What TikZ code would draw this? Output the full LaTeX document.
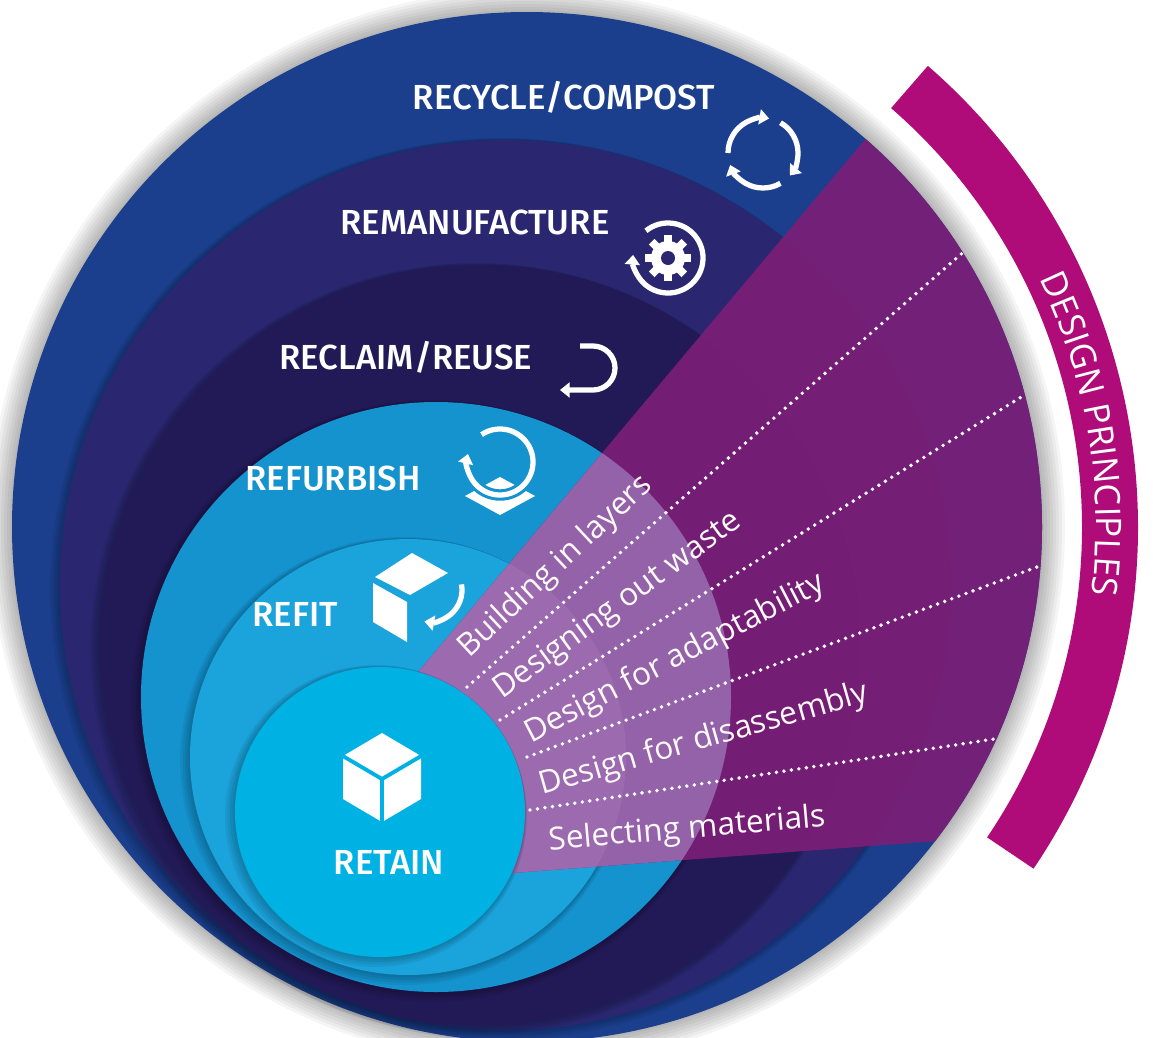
\documentclass[tikz,border=0pt]{standalone}
\usepackage{fontspec}
\setmainfont{Fira Sans}[BoldFont={Fira Sans Medium}]
\newfontfamily\prfont{Open Sans}
\usetikzlibrary{arrows.meta,calc,decorations.text}

\definecolor{recycle}{RGB}{27,63,141}
\definecolor{remanu}{RGB}{42,39,112}
\definecolor{reclaim}{RGB}{34,26,87}
\definecolor{refurb}{RGB}{21,147,207}
\definecolor{refit}{RGB}{27,163,220}
\definecolor{retain}{RGB}{0,177,227}
\definecolor{wedge}{RGB}{123,30,119}
\definecolor{lav}{RGB}{148,98,168}
\definecolor{lavlight}{RGB}{160,112,180}
\definecolor{band}{RGB}{176,12,121}

\begin{document}
\begin{tikzpicture}[x=0.02cm, y=-0.02cm,
    stage/.style={text=white, font=\fontsize{19.8}{23}\selectfont\bfseries, inner sep=0},
    principle/.style={text=white!92!pink, font=\prfont\fontsize{18}{21}\selectfont, inner sep=0},
    dots/.style={white, line width=2.2pt, line cap=round, dash pattern=on 0pt off 4.3pt},
    icon/.style={white, line width=3pt},
    arrowtip/.style={-{Triangle[length=5.5pt, width=8.5pt]}}
]
\fill[white] (0,0) rectangle (1153,1038);
\useasboundingbox (0,0) rectangle (1153,1038);

\coordinate (c1) at (527,527);
\coordinate (c2) at (505,585);
\coordinate (c3) at (480,645);
\coordinate (c4) at (436,697);
\coordinate (c5) at (408,757);
\coordinate (c6) at (380,812);
\coordinate (apex) at (232,894);
\coordinate (w1) at ($(apex)+(-50:250)$);
\coordinate (w2) at ($(apex)+(-4.3:200)$);

% soft shadow round the disc
\foreach \i in {1,...,8}
  \fill[black, opacity=0.04] (c1) circle ({514+3*\i});
\fill[recycle] (c1) circle (515);

% nested rings
\foreach \c/\r/\col in {c2/445/remanu, c3/380/reclaim, c4/295/refurb, c5/218/refit}{
  \foreach \i in {1,...,4}
    \fill[black, opacity=0.06] ($(\c)+(-\i,\i)$) circle ({\r+1.5*\i});
  \fill[\col] (\c) circle (\r);
}

% design principles wedge
\begin{scope}
  \clip (c1) circle (515);
  \fill[wedge, opacity=0.92] (w1) -- ($(apex)+(-50:1400)$) -- ($(apex)+(-4.3:1400)$) -- (w2) -- (c6) -- cycle;
  \clip (w1) -- ($(apex)+(-50:1400)$) -- ($(apex)+(-4.3:1400)$) -- (w2) -- (c6) -- cycle;
  \fill[lav] (c4) circle (295);
  \fill[lavlight, opacity=0.6] (c5) circle (218);
  \draw[dots] (467,687) -- (1000,220);
  \draw[dots] (500,720) -- (1060,373);
  \draw[dots] (527,757) -- (1080,551);
  \draw[dots] (530,810) -- (1040,732);
\end{scope}

\foreach \i in {1,...,4}
  \fill[black, opacity=0.06] ($(c6)+(-\i,\i)$) circle ({145+1.5*\i});
\fill[retain] (c6) circle (145);

% stage labels
\node[stage] (recycling) at (564,97) {RECYCLE/COMPOST};
\node[stage] (remanufacture) at (475,222) {REMANUFACTURE};
\node[stage] (reclaiming) at (406,357) {RECLAIM/REUSE};
\node[stage] (refurbish) at (333,478) {REFURBISH};
\node[stage] (refitting) at (295,614) {REFIT};
\node[stage] (retaining) at (389,862) {RETAIN};

% icons
\coordinate (rc) at (763,153);
\foreach \s in {60,180,300}
  \draw[icon, arrowtip] ($(rc)+(\s:35)$) arc[start angle=\s, end angle=\s+100, radius=35];

\coordinate (rm) at (668,258);
\draw[icon, arrowtip] ($(rm)+(231:35)$) arc[start angle=231, end angle=545, radius=35];
\fill[white] (rm) circle (17);
\foreach \a in {0,45,...,315}
  \draw[white, line width=4.5pt] ($(rm)+(\a:12)$) -- ($(rm)+(\a:23)$);
\fill[remanu] (rm) circle (7);

\coordinate (rl) at (593,368);
\draw[icon, arrowtip] ($(rl)+(-13,-22)$) -- ($(rl)+(0,-22)$)
  arc[start angle=-90, end angle=90, radius=22] -- ($(rl)+(-33,22)$);

\coordinate (rf) at (500,462);
\fill[white] ($(rf)+(-35,34)$) -- ++(35,-19) -- ++(35,19) -- ++(-35,19) -- cycle;
\draw[refurb, line width=6.5pt] ($(rf)+(236:33)$) arc[start angle=236, end angle=554, radius=33];
\draw[icon, arrowtip] ($(rf)+(236:33)$) arc[start angle=236, end angle=554, radius=33];

\coordinate (rt) at (410,597);
\fill[white] ($(rt)+(2,-44)$) -- ++(36,20) -- ++(-38,22) -- ++(-35,-18) -- cycle;
\fill[white] ($(rt)+(-37,-14)$) -- ++(34,19) -- ++(0,40) -- ++(-34,-20) -- cycle;
\draw[icon, arrowtip] ($(rt)+(51.5,-12.6)$) arc[start angle=-10, end angle=100, radius=32];

\coordinate (rn) at (382,779);
\fill[white] ($(rn)+(0,-46)$) -- ++(39,23) -- ++(0,43) -- ++(-39,23) -- ++(-39,-23) -- ++(0,-43) -- cycle;
\draw[retain, line width=2.2pt] ($(rn)+(-40,-23.5)$) -- (rn) -- ($(rn)+(40,-23.5)$) (rn) -- ($(rn)+(0,45)$);

% principles
\node[principle, rotate=43] (layers) at (556,567) {Building in layers};
\node[principle, rotate=36] (waste) at (618,606) {Designing out waste};
\node[principle, rotate=27.5] (adapt) at (675,659) {Design for adaptability};
\node[principle, rotate=16] (disassembly) at (704,740) {Design for disassembly};
\node[principle, rotate=5] (materials) at (687,830) {Selecting materials};

% outer band
\fill[band] ($(c1)+(-49:555)$) arc[start angle=-49, end angle=34, radius=555]
  -- ($(c1)+(34:611)$) arc[start angle=34, end angle=-49, radius=611] -- cycle;
\path[decorate, decoration={text along path, text align=center,
    text={|\prfont\fontsize{20}{24}\selectfont\color{white}|DESIGN PRINCIPLES}}]
  ($(c1)+(-55:569)$) arc[start angle=-55, end angle=36, radius=569];

\end{tikzpicture}
\end{document}
